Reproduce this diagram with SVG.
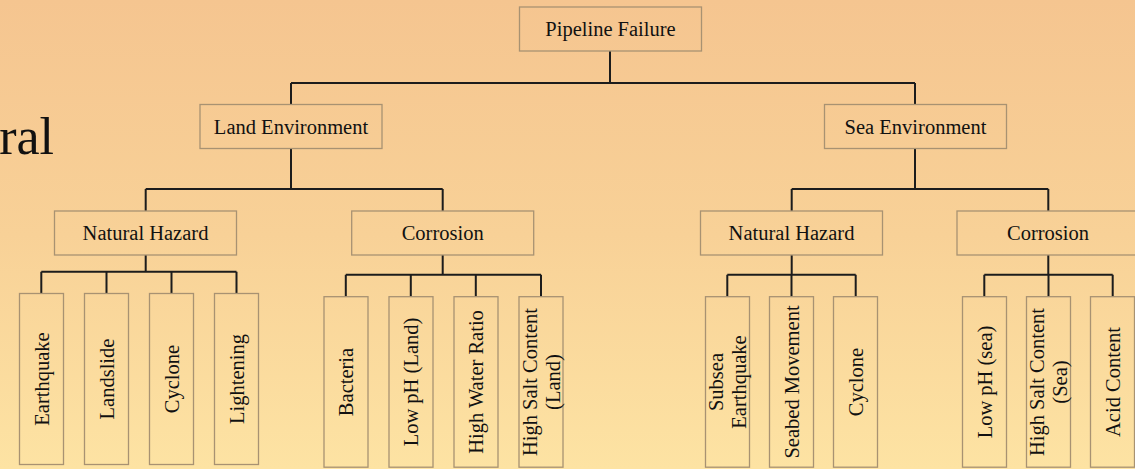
<svg xmlns="http://www.w3.org/2000/svg" width="1135" height="469" viewBox="0 0 1135 469">
<defs>
<linearGradient id="bg" x1="0" y1="0" x2="0" y2="1">
<stop offset="0" stop-color="#F5C590"/>
<stop offset="0.5" stop-color="#F8D197"/>
<stop offset="1" stop-color="#FDE3A3"/>
</linearGradient>
<style>
.box{fill:none;stroke:#A89272;stroke-width:1.3}
.t{font-family:"Liberation Serif","DejaVu Serif",serif;font-size:20.5px;fill:#111;text-anchor:middle;dominant-baseline:central}
.c{fill:none;stroke:#1c1c1c;stroke-width:2}
</style>
</defs>
<rect x="0" y="0" width="1135" height="469" fill="url(#bg)"/>
<text x="54" y="154" font-family="Liberation Serif, serif" font-size="52" fill="#111" text-anchor="end">ral</text>

<g id="connectors" class="c">
<path d="M610,51 V83 M291,83 H915 M291,83 V104.5 M915,83 V104.5"/>
<path d="M291,149 V189 M145.7,189 H442.7 M145.7,189 V211 M442.7,189 V211"/>
<path d="M915,149 V189 M791.7,189 H1048.3 M791.7,189 V211 M1048.3,189 V211"/>
<path d="M145.7,255 V271.7 M41.3,271.7 H236.5 M41.3,271.7 V293.5 M106.5,271.7 V293.5 M171.5,271.7 V293.5 M236.5,271.7 V293.5"/>
<path d="M442.7,255 V274.7 M345.8,274.7 H541 M345.8,274.7 V296.7 M410.8,274.7 V296.7 M475.8,274.7 V296.7 M541,274.7 V296.7"/>
<path d="M791.7,255 V274.7 M727.3,274.7 H855.7 M727.3,274.7 V296.7 M791.5,274.7 V296.7 M855.7,274.7 V296.7"/>
<path d="M1048.3,255 V274.7 M984.3,274.7 H1112.7 M984.3,274.7 V296.7 M1048.5,274.7 V296.7 M1112.7,274.7 V296.7"/>
</g>

<g id="pipeline-failure"><rect class="box" x="519.5" y="7" width="182" height="44"/><text class="t" x="610.5" y="29">Pipeline Failure</text></g>
<g id="land-environment"><rect class="box" x="200" y="104.5" width="182" height="44"/><text class="t" x="291" y="126.5">Land Environment</text></g>
<g id="sea-environment"><rect class="box" x="824.5" y="104.5" width="182" height="44"/><text class="t" x="915.5" y="126.5">Sea Environment</text></g>

<g id="land-natural-hazard"><rect class="box" x="54.5" y="211" width="182" height="44"/><text class="t" x="145.5" y="233">Natural Hazard</text></g>
<g id="land-corrosion"><rect class="box" x="351.7" y="211" width="182" height="44"/><text class="t" x="442.7" y="233">Corrosion</text></g>
<g id="sea-natural-hazard"><rect class="box" x="700.5" y="211" width="182" height="44"/><text class="t" x="791.5" y="233">Natural Hazard</text></g>
<g id="sea-corrosion"><rect class="box" x="957" y="211" width="182" height="44"/><text class="t" x="1048" y="233">Corrosion</text></g>

<g id="earthquake"><rect class="box" x="19.5" y="293.5" width="44" height="171"/><text class="t" transform="translate(41.5,379) rotate(-90)">Earthquake</text></g>
<g id="landslide"><rect class="box" x="84.5" y="293.5" width="44" height="171"/><text class="t" transform="translate(106.5,379) rotate(-90)">Landslide</text></g>
<g id="cyclone-land"><rect class="box" x="149.5" y="293.5" width="44" height="171"/><text class="t" transform="translate(171.5,379) rotate(-90)">Cyclone</text></g>
<g id="lightening"><rect class="box" x="214.5" y="293.5" width="44" height="171"/><text class="t" transform="translate(236.5,379) rotate(-90)">Lightening</text></g>

<g id="bacteria"><rect class="box" x="324" y="296.7" width="44" height="170.5"/><text class="t" transform="translate(346,382) rotate(-90)">Bacteria</text></g>
<g id="low-ph-land"><rect class="box" x="389" y="296.7" width="44" height="170.5"/><text class="t" transform="translate(411,382) rotate(-90)">Low pH (Land)</text></g>
<g id="high-water-ratio"><rect class="box" x="454" y="296.7" width="44" height="170.5"/><text class="t" transform="translate(476,382) rotate(-90)">High Water Ratio</text></g>
<g id="high-salt-land"><rect class="box" x="519" y="296.7" width="44" height="170.5"/><text class="t" transform="translate(541,382) rotate(-90)"><tspan x="0" y="-11.5">High Salt Content</tspan><tspan x="0" y="11.5">(Land)</tspan></text></g>

<g id="subsea-earthquake"><rect class="box" x="705.5" y="296.7" width="44" height="170.5"/><text class="t" transform="translate(727.5,382) rotate(-90)"><tspan x="0" y="-11.5">Subsea</tspan><tspan x="0" y="11.5">Earthquake</tspan></text></g>
<g id="seabed-movement"><rect class="box" x="769.5" y="296.7" width="44" height="170.5"/><text class="t" transform="translate(791.5,382) rotate(-90)">Seabed Movement</text></g>
<g id="cyclone-sea"><rect class="box" x="833.5" y="296.7" width="44" height="170.5"/><text class="t" transform="translate(855.5,382) rotate(-90)">Cyclone</text></g>

<g id="low-ph-sea"><rect class="box" x="962.5" y="296.7" width="44" height="170.5"/><text class="t" transform="translate(984.5,382) rotate(-90)">Low pH (sea)</text></g>
<g id="high-salt-sea"><rect class="box" x="1026.5" y="296.7" width="44" height="170.5"/><text class="t" transform="translate(1048.5,382) rotate(-90)"><tspan x="0" y="-11.5">High Salt Content</tspan><tspan x="0" y="11.5">(Sea)</tspan></text></g>
<g id="acid-content"><rect class="box" x="1090.5" y="296.7" width="44" height="170.5"/><text class="t" transform="translate(1112.5,382) rotate(-90)">Acid Content</text></g>
</svg>
